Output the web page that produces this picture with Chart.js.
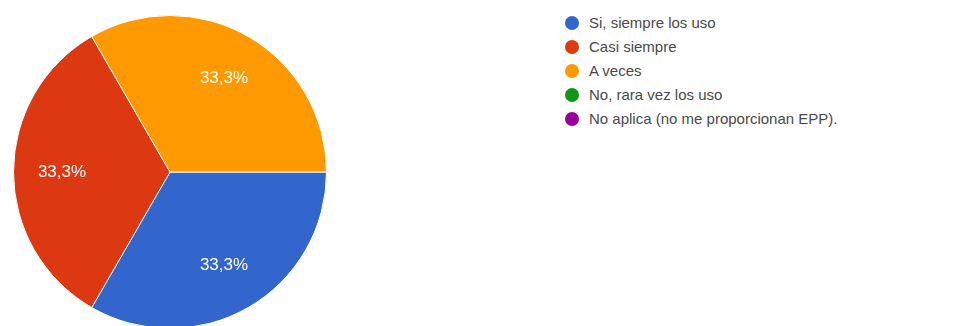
<!DOCTYPE html>
<html>
<head>
<meta charset="utf-8">
<script src="https://cdn.jsdelivr.net/npm/chart.js@4/dist/chart.umd.min.js"></script>
<style>
	html, body { margin: 0; padding: 0; background: #fff; overflow: hidden; width: 955px; height: 326px; }
	#torta { position: absolute; left: 13px; top: 15px; width: 314px; height: 314px; }
	#leyenda { position: absolute; left: 565px; top: 13px; font-family: "Liberation Sans", Arial, sans-serif; font-size: 15px; color: #4a4a4a; }
	#leyenda div { height: 24px; line-height: 20px; white-space: nowrap; }
	#leyenda span { display: inline-block; width: 14px; height: 14px; border-radius: 50%; vertical-align: -2px; margin-right: 10px; }
</style>
</head>
<body>
<div id="torta"><canvas id="chart"></canvas></div>
<div id="leyenda"></div>
<script>
var respuestas = ['Si, siempre los uso', 'Casi siempre', 'A veces', 'No, rara vez los uso', 'No aplica (no me proporcionan EPP).'];
var cantidades = [1, 1, 1, 0, 0];
var colores = ['#3366cc', '#dc3912', '#ff9900', '#109618', '#990099'];

// leyenda a mano, una fila por respuesta
var leyenda = document.getElementById('leyenda');
for (var i = 0; i < respuestas.length; i++) {
	leyenda.innerHTML += '<div><span style="background:' + colores[i] + '"></span>' + respuestas[i] + '</div>';
}

// porcentajes dentro de cada porcion
var etiquetas = {
	id: 'etiquetas',
	afterDatasetsDraw: function(chart) {
		var ctx = chart.ctx;
		var meta = chart.getDatasetMeta(0);
		var total = cantidades.reduce(function(a, b) { return a + b; }, 0);
		ctx.save();
		ctx.font = '17px "Liberation Sans", Arial, sans-serif';
		ctx.fillStyle = '#fff';
		ctx.textAlign = 'center';
		ctx.textBaseline = 'middle';
		meta.data.forEach(function(arco, i) {
			if (!cantidades[i]) return;
			var p = arco.getProps(['x', 'y', 'startAngle', 'endAngle', 'outerRadius']);
			var ang = (p.startAngle + p.endAngle) / 2;
			var r = p.outerRadius * 0.69;
			var txt = (cantidades[i] / total * 100).toFixed(1).replace('.', ',') + '%';
			ctx.fillText(txt, p.x + Math.cos(ang) * r, p.y + Math.sin(ang) * r);
		});
		ctx.restore();
	}
};

var grafico = new Chart(document.getElementById('chart'), {
	type: 'pie',
	data: {
		labels: respuestas,
		datasets: [{
			data: cantidades,
			backgroundColor: colores,
			borderColor: '#fff',
			borderWidth: 1
		}]
	},
	options: {
		responsive: true,
		maintainAspectRatio: false,
		animation: false,
		rotation: 90,
		layout: { padding: 0 },
		plugins: {
			legend: { display: false },
			tooltip: { enabled: false }
		}
	},
	plugins: [etiquetas]
});
</script>
</body>
</html>
